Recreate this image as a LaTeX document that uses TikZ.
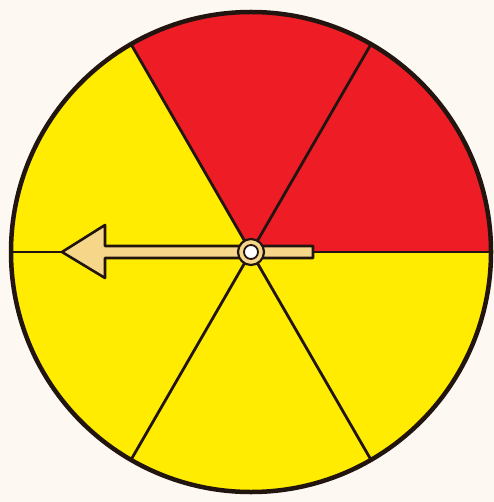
\documentclass[tikz,border=0pt]{standalone}
\definecolor{bg}{HTML}{FDF8F2}
\definecolor{wred}{HTML}{EE1C25}
\definecolor{wyellow}{HTML}{FFEC00}
\definecolor{outline}{HTML}{221510}
\definecolor{tan}{HTML}{F6D689}
\begin{document}
\begin{tikzpicture}[x=1bp,y=-1bp,
  rim/.style={draw=outline,line width=4.5bp},
  spoke/.style={draw=outline,line width=2.8bp},
  pointer/.style={fill=tan,draw=outline,line width=2.6bp,line join=round}]
\fill[bg] (0,0) rectangle (494,502);
\useasboundingbox (0,0) rectangle (494,502);
\coordinate (c) at (251,252);
\def\R{240}
% sectors
\fill[wyellow] (c) circle[radius=\R];
\fill[wred] (c) -- +(0:\R) arc[start angle=0,end angle=-120,radius=\R] -- cycle;
% spokes
\foreach \a in {0,60,120,180,240,300}
  \draw[spoke] (c) -- +(\a:\R);
\draw[rim] (c) circle[radius=\R];
% pointer
\draw[pointer] (313,246) -- (105,246) -- (105,225) -- (62,252) -- (105,278) -- (105,258) -- (313,258) -- cycle;
\draw[pointer,line width=2.2bp] (c) circle[radius=13];
\draw[fill=white,draw=outline,line width=1.8bp] (c) circle[radius=7];
\end{tikzpicture}
\end{document}
